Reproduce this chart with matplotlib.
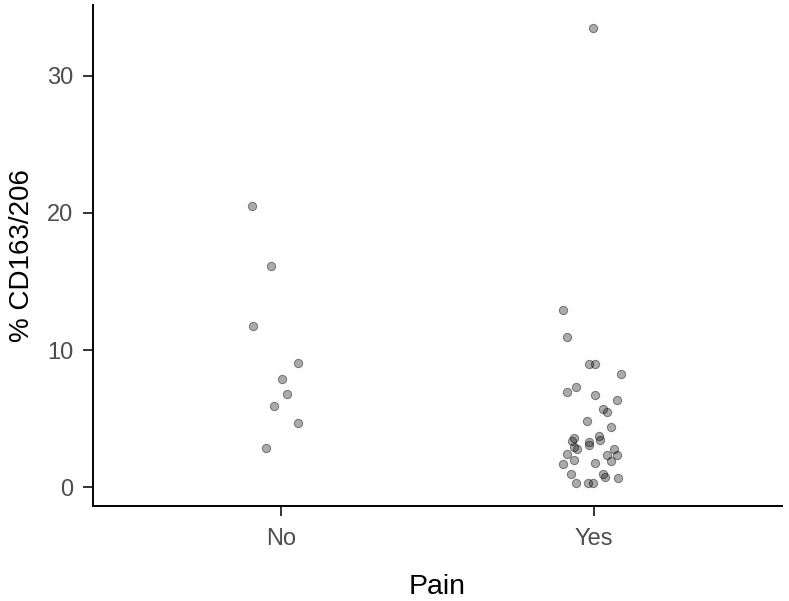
import numpy as np
import matplotlib
matplotlib.use("Agg")
import matplotlib.pyplot as plt

plt.rcParams["font.family"] = ["Liberation Sans", "DejaVu Sans"]

#------- data (jittered x positions as drawn, y = % CD163/206) -------#

categories = ["No", "Yes"]

no_x = [0.909, 0.968, 0.912, 1.056, 1.005, 1.019, 0.978, 1.053, 0.953]
no_y = [20.51, 16.10, 11.73, 9.03, 7.86, 6.77, 5.89, 4.72, 2.85]

yes_x = [1.997, 1.900, 1.912, 1.984, 2.002, 2.087, 1.914, 1.943, 2.003, 2.074,
         2.030, 2.041, 1.978, 2.054, 1.935, 1.929, 2.016, 2.018, 1.983, 1.985,
         1.936, 1.947, 2.063, 1.915, 2.042, 2.073, 1.937, 2.055, 2.004, 1.900,
         1.926, 2.028, 2.036, 2.076, 1.942, 1.979, 1.997]
yes_y = [33.50, 12.94, 10.95, 8.98, 8.98, 8.25, 6.96, 7.30, 6.72, 6.35,
         5.74, 5.52, 4.82, 4.38, 3.60, 3.36, 3.72, 3.48, 3.31, 3.07,
         2.90, 2.77, 2.80, 2.46, 2.36, 2.36, 1.99, 1.88, 1.80, 1.66,
         0.97, 0.97, 0.78, 0.68, 0.34, 0.34, 0.29]

#------- plot -------#

fig = plt.figure(figsize=(7.89, 6.01), dpi=100)
ax = fig.add_axes([0.1179, 0.158, 0.8732, 0.8337])

x = np.array(no_x + yes_x)
y = np.array(no_y + yes_y)
ax.scatter(x, y, s=36, facecolor=(0, 0, 0, 0.33), edgecolor=(0, 0, 0, 0.45),
           linewidths=0.7)

ymin, ymax = y.min(), y.max()
pad = 0.05 * (ymax - ymin)
ax.set_ylim(ymin - pad, ymax + pad)
ax.set_xlim(0.4, 2.6)

ax.set_xticks([1, 2])
ax.set_xticklabels(categories)
ax.set_yticks([0, 10, 20, 30])

for s in ["top", "right"]:
    ax.spines[s].set_visible(False)
for s in ["left", "bottom"]:
    ax.spines[s].set_linewidth(1.4)
    ax.spines[s].set_color("black")

ax.tick_params(axis="both", length=7, width=1.4, color="#333333",
               labelcolor="#4D4D4D", labelsize=17)
ax.tick_params(axis="x", pad=9)
ax.tick_params(axis="y", pad=7)

ax.set_xlabel("Pain", fontsize=20.5, color="black", labelpad=17)
ax.set_ylabel("% CD163/206", fontsize=20, color="black", labelpad=9)

fig.savefig("out.png", dpi=100)
